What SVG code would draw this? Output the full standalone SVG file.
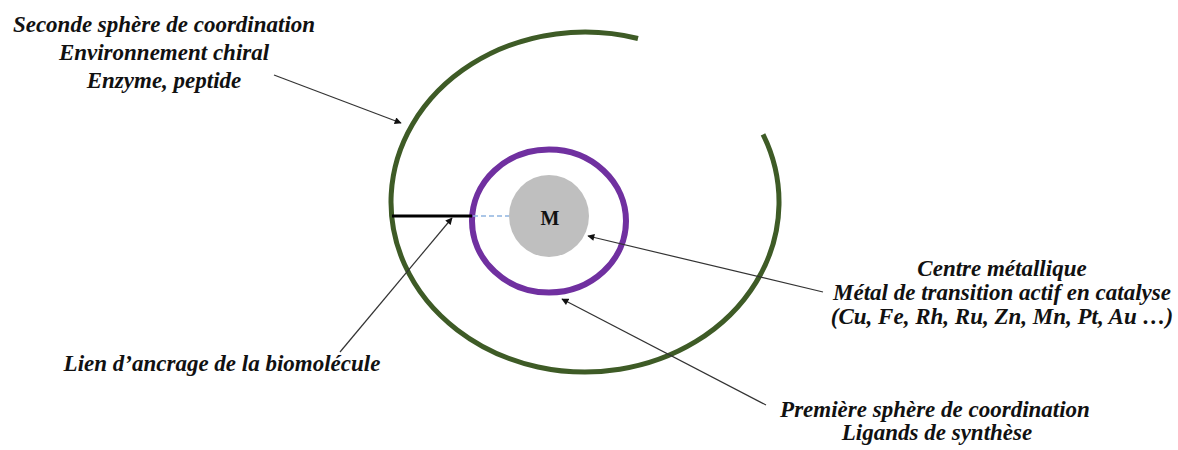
<svg xmlns="http://www.w3.org/2000/svg" width="1178" height="450" viewBox="0 0 1178 450">
  <defs>
    <style>
      .lbl { font-family: "Liberation Serif", "Times New Roman", serif; font-weight: bold; font-style: italic; font-size: 23px; fill: #111; text-anchor: middle; }
      .conn { stroke: #333; stroke-width: 1.2; fill: none; marker-end: url(#arrow); }
    </style>
    <marker id="arrow" viewBox="0 0 10 10" refX="9" refY="5" markerWidth="8" markerHeight="7" markerUnits="userSpaceOnUse" orient="auto">
      <path d="M0,0 L10,5 L0,10 Z" fill="#111"/>
    </marker>
  </defs>
  <rect width="1178" height="450" fill="#fff"/>

  <g id="second-sphere">
    <path d="M 638 38.5 A 194 170 0 1 0 763 134.4" fill="none" stroke="#3e5b26" stroke-width="5"/>
  </g>

  <g id="first-sphere">
    <ellipse cx="549" cy="221" rx="77" ry="71.5" fill="none" stroke="#7030a0" stroke-width="6"/>
  </g>

  <g id="anchor-link">
    <line x1="392" y1="216" x2="472" y2="216" stroke="#000" stroke-width="3"/>
    <line x1="473" y1="216" x2="509" y2="216" stroke="#8fb4e0" stroke-width="1.5" stroke-dasharray="5 3"/>
  </g>

  <g id="metal-centre">
    <ellipse cx="549" cy="216" rx="40" ry="41" fill="#bfbfbf"/>
    <text x="550" y="225" font-family="Liberation Serif, Times New Roman, serif" font-weight="bold" font-size="20" text-anchor="middle" fill="#111">M</text>
  </g>

  <g id="connectors">
    <line class="conn" x1="274" y1="75" x2="401" y2="123"/>
    <line class="conn" x1="340" y1="352" x2="452" y2="218"/>
    <line class="conn" x1="823" y1="292" x2="588" y2="236"/>
    <line class="conn" x1="766" y1="405" x2="562" y2="299"/>
  </g>

  <g id="label-second">
    <text class="lbl" x="164" y="32">Seconde sphère de coordination</text>
    <text class="lbl" x="164" y="60">Environnement chiral</text>
    <text class="lbl" x="164" y="88">Enzyme, peptide</text>
  </g>

  <g id="label-centre">
    <text class="lbl" x="1002" y="276">Centre métallique</text>
    <text class="lbl" x="1002" y="300">Métal de transition actif en catalyse</text>
    <text class="lbl" x="1002" y="324">(Cu, Fe, Rh, Ru, Zn, Mn, Pt, Au …)</text>
  </g>

  <g id="label-link">
    <text class="lbl" x="222" y="371">Lien d’ancrage de la biomolécule</text>
  </g>

  <g id="label-first">
    <text class="lbl" x="935" y="417">Première sphère de coordination</text>
    <text class="lbl" x="937" y="440">Ligands de synthèse</text>
  </g>
</svg>
